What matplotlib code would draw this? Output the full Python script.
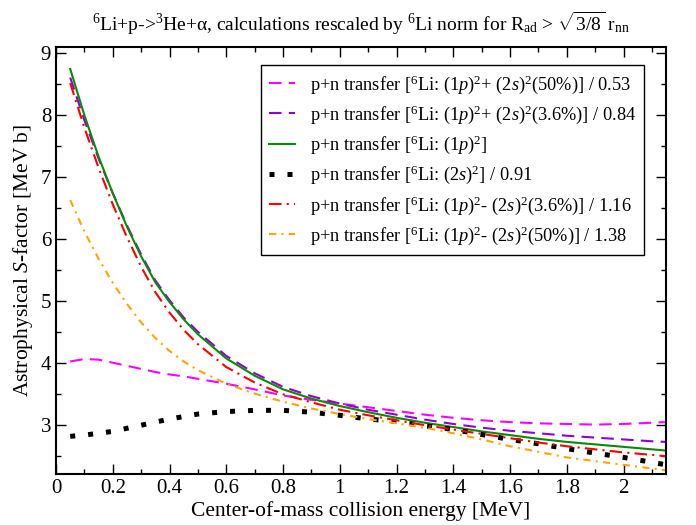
import numpy as np
import matplotlib
matplotlib.use("Agg")
import matplotlib.pyplot as plt
from matplotlib.ticker import MultipleLocator, FormatStrFormatter

plt.rcParams['font.family'] = ['Liberation Serif', 'DejaVu Serif']
plt.rcParams['mathtext.fontset'] = 'custom'
plt.rcParams['mathtext.rm'] = 'Liberation Serif'
plt.rcParams['mathtext.it'] = 'Liberation Serif:italic'
plt.rcParams['mathtext.bf'] = 'Liberation Serif:bold'

# collision energy grid [MeV]
energy = [0.05, 0.1, 0.15, 0.2, 0.25, 0.3, 0.35, 0.4, 0.45, 0.5, 0.6, 0.7, 0.8, 0.9,
          1.0, 1.1, 1.2, 1.3, 1.4, 1.5, 1.6, 1.7, 1.8, 1.9, 2.0, 2.1, 2.15]

# S-factor curves [MeV b]
s_mix50_plus = [4.02, 4.06, 4.05, 4.00, 3.95, 3.90, 3.85, 3.81, 3.78, 3.74, 3.66, 3.57, 3.47, 3.40,
                3.34, 3.28, 3.22, 3.16, 3.11, 3.07, 3.04, 3.02, 3.01, 3.00, 3.01, 3.03, 3.04]
s_mix36_plus = [8.61, 7.92, 7.30, 6.74, 6.22, 5.75, 5.33, 5.01, 4.73, 4.50, 4.11, 3.83, 3.61, 3.46,
                3.34, 3.24, 3.16, 3.08, 3.01, 2.95, 2.90, 2.86, 2.82, 2.79, 2.76, 2.73, 2.72]
s_1p = [8.75, 8.00, 7.33, 6.74, 6.20, 5.72, 5.30, 4.98, 4.70, 4.46, 4.07, 3.79, 3.57, 3.42,
        3.30, 3.20, 3.11, 3.03, 2.96, 2.89, 2.83, 2.77, 2.72, 2.68, 2.64, 2.60, 2.58]
s_2s = [2.81, 2.83, 2.86, 2.89, 2.94, 2.99, 3.04, 3.09, 3.13, 3.17, 3.21, 3.23, 3.23, 3.20,
        3.15, 3.09, 3.05, 2.98, 2.92, 2.84, 2.76, 2.69, 2.61, 2.54, 2.47, 2.39, 2.35]
s_mix36_minus = [8.52, 7.80, 7.15, 6.56, 6.03, 5.55, 5.14, 4.81, 4.53, 4.30, 3.93, 3.68, 3.49, 3.36,
                 3.24, 3.15, 3.07, 2.99, 2.92, 2.85, 2.78, 2.71, 2.65, 2.60, 2.55, 2.51, 2.49]
s_mix50_minus = [6.63, 6.12, 5.68, 5.29, 4.95, 4.65, 4.40, 4.19, 4.02, 3.88, 3.66, 3.50, 3.37, 3.26,
                 3.17, 3.09, 3.02, 2.95, 2.86, 2.76, 2.65, 2.56, 2.47, 2.41, 2.35, 2.29, 2.26]

labels = [
    r"p+n transfer [$^6$Li: (1$p$)$^2$+ (2$s$)$^2$(50%)] / 0.53",
    r"p+n transfer [$^6$Li: (1$p$)$^2$+ (2$s$)$^2$(3.6%)] / 0.84",
    r"p+n transfer [$^6$Li: (1$p$)$^2$]",
    r"p+n transfer [$^6$Li: (2$s$)$^2$] / 0.91",
    r"p+n transfer [$^6$Li: (1$p$)$^2$- (2$s$)$^2$(3.6%)] / 1.16",
    r"p+n transfer [$^6$Li: (1$p$)$^2$- (2$s$)$^2$(50%)] / 1.38",
]

fig = plt.figure(figsize=(6.96, 5.25), dpi=100)
ax = fig.add_axes([0.0805, 0.097, 0.8765, 0.813])

ax.plot(energy, s_mix50_plus, color='#ff00ff', lw=1.5, ls=(0, (6, 3.5)), label=labels[0])
ax.plot(energy, s_mix36_plus, color='#9400d3', lw=1.5, ls=(0, (6, 3.5)), label=labels[1])
ax.plot(energy, s_1p, color='#0a8a0a', lw=1.5, ls='-', label=labels[2])
ax.plot(energy, s_2s, color='black', lw=3.6, ls=(0, (1, 2.6)), dash_capstyle='butt', label=labels[3])
ax.plot(energy, s_mix36_minus, color='#ff0000', lw=1.5, ls=(0, (6, 2.5, 1, 2.5)), label=labels[4])
ax.plot(energy, s_mix50_minus, color='#ffa500', lw=1.5, ls=(0, (3.5, 2.5, 1, 2.5)), label=labels[5])

ax.set_xlim(0, 2.15)
ax.set_ylim(2.2, 9.1)
ax.xaxis.set_major_locator(MultipleLocator(0.2))
ax.xaxis.set_minor_locator(MultipleLocator(0.1))
ax.yaxis.set_major_locator(MultipleLocator(1))
ax.yaxis.set_minor_locator(MultipleLocator(0.5))
ax.xaxis.set_major_formatter(FormatStrFormatter('%g'))
ax.tick_params(which='both', direction='in', top=True, right=True, labelsize=15, width=1)
ax.tick_params(which='major', length=7)
ax.tick_params(which='minor', length=3.5)
for sp in ax.spines.values():
    sp.set_linewidth(1.5)

ax.set_xlabel("Center-of-mass collision energy [MeV]", fontsize=15.5, labelpad=2)
ax.set_ylabel(r"Astrophysical $S$-factor [MeV b]", fontsize=15.5, labelpad=4)
ax.set_title(r"$^6$Li+p->$^3$He+α, calculations rescaled by $^6$Li norm for R$_{\rm ad}$ > $\sqrt{3/8}$ r$_{\rm nn}$",
             fontsize=14, pad=12)

leg = ax.legend(loc='upper right', bbox_to_anchor=(0.964, 0.9585), borderaxespad=0,
                fontsize=13.2, handlelength=1.4, handletextpad=0.8, labelspacing=0.42,
                fancybox=False, framealpha=1, edgecolor='black', borderpad=0.45)
leg.get_frame().set_linewidth(1.0)

fig.savefig("out.png", dpi=100)
